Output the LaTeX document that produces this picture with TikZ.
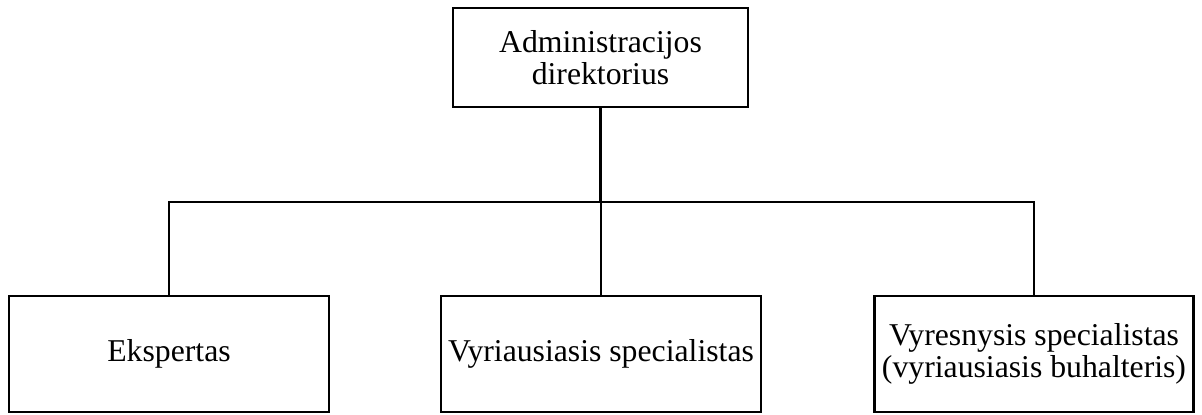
\documentclass[tikz,border=0pt]{standalone}
\usepackage{fontspec}
\setmainfont{Liberation Serif}
\begin{document}
\begin{tikzpicture}[x=0.75pt,y=-0.75pt,
  box/.style={draw=black,line width=1.9pt,inner sep=0pt,align=center,
    font=\fontsize{23.8}{23.5}\selectfont},
  conn/.style={draw=black,line width=1.9pt}]
\useasboundingbox (0,0) rectangle (1202,414);
\node[box,minimum width=295*0.75pt,minimum height=99*0.75pt] (top) at (600.5,57.5) {Administracijos\\direktorius};
\node[box,minimum width=320*0.75pt,minimum height=116*0.75pt] (left) at (169,354) {Ekspertas};
\node[box,minimum width=320*0.75pt,minimum height=116*0.75pt] (mid) at (601,354) {Vyriausiasis specialistas};
\node[box,minimum width=319*0.75pt,minimum height=116*0.75pt] (right) at (1034,354) {Vyresnysis specialistas\\(vyriausiasis buhalteris)};
\coordinate (bus) at (0,202);
\draw[conn] (top.south) -- (top.south |- bus);
\draw[conn] (left.north) |- (bus -| right.north) -- (right.north);
\draw[conn] (mid.north) -- (mid.north |- bus);
\end{tikzpicture}
\end{document}
